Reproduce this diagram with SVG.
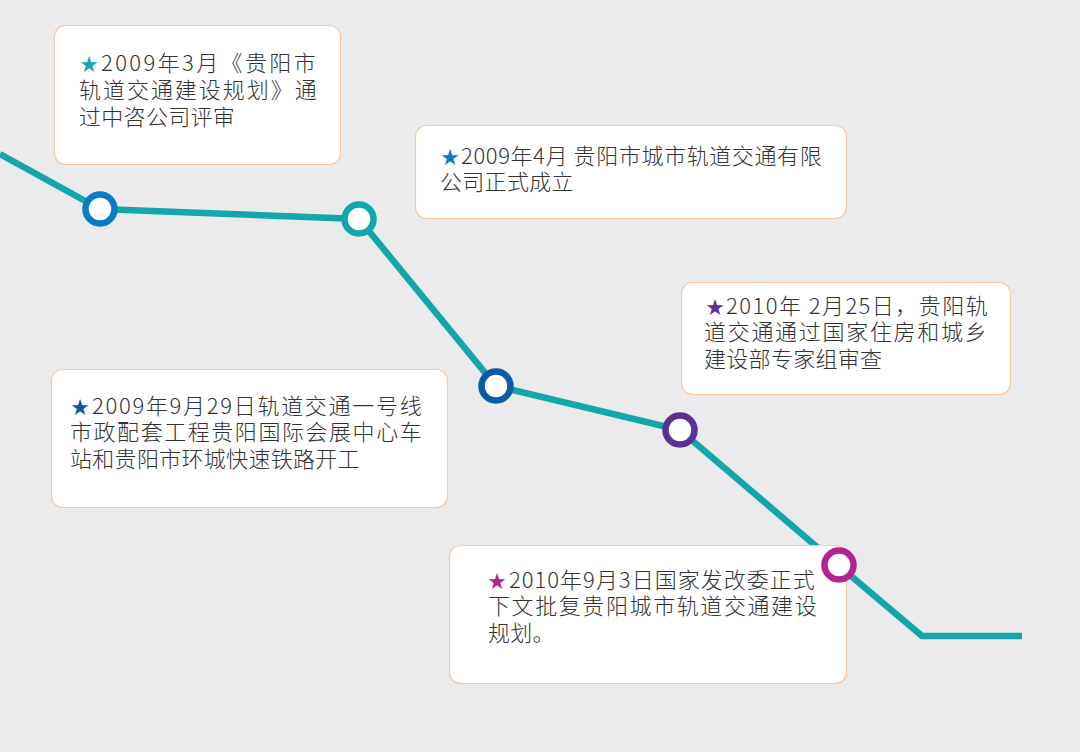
<svg xmlns="http://www.w3.org/2000/svg" width="1080" height="752" viewBox="0 0 1080 752">
<style>
.box{fill:#ffffff;stroke:#f6c9a3;stroke-width:1.2}
.t{font-family:"Noto Sans CJK SC","Noto Sans",sans-serif;font-size:22px;font-weight:300;fill:#333333;letter-spacing:0.3px}
.st{font-family:"Noto Sans CJK SC","Noto Sans",sans-serif;font-size:18px}
.dot{fill:#ffffff;stroke-width:6.5}
</style>
<rect width="1080" height="752" fill="#ebebee"/>
<g id="connectors">
<polyline points="0,154 100,209 359,219 496,386 680,430 838,565 922,636 1022,636" fill="none" stroke="#13a7a9" stroke-width="6.5" stroke-linejoin="miter"/>
</g>
<g id="node1">
<rect class="box" x="54.5" y="25.5" width="286" height="139" rx="11"/>
<text class="st" x="80" y="71" fill="#16a9ab">★</text>
<text class="t"><tspan x="101" y="71" textLength="215" lengthAdjust="spacing">2009年3月《贵阳市</tspan><tspan x="79" y="98" textLength="238" lengthAdjust="spacing">轨道交通建设规划》通</tspan><tspan x="79" y="125">过中咨公司评审</tspan></text>
</g>
<g id="node2">
<rect class="box" x="415.5" y="125.5" width="431" height="93" rx="11"/>
<text class="st" x="441" y="164" fill="#0a7bc4">★</text>
<text class="t"><tspan x="461" y="164" textLength="361" lengthAdjust="spacing">2009年4月 贵阳市城市轨道交通有限</tspan><tspan x="440" y="190">公司正式成立</tspan></text>
</g>
<g id="node3">
<rect class="box" x="681.5" y="282.5" width="329" height="112" rx="11"/>
<text class="st" x="706" y="314" fill="#5c3196">★</text>
<text class="t"><tspan x="726" y="314" textLength="262" lengthAdjust="spacing">2010年 2月25日，贵阳轨</tspan><tspan x="704" y="340" textLength="283" lengthAdjust="spacing">道交通通过国家住房和城乡</tspan><tspan x="704" y="367">建设部专家组审查</tspan></text>
</g>
<g id="node4">
<rect class="box" x="51.5" y="369.5" width="396" height="138" rx="11"/>
<text class="st" x="71" y="414" fill="#0d5aa7">★</text>
<text class="t"><tspan x="92" y="414" textLength="330" lengthAdjust="spacing">2009年9月29日轨道交通一号线</tspan><tspan x="70" y="440" textLength="352" lengthAdjust="spacing">市政配套工程贵阳国际会展中心车</tspan><tspan x="70" y="467">站和贵阳市环城快速铁路开工</tspan></text>
</g>
<g id="node5">
<rect class="box" x="449.5" y="545.5" width="397" height="138" rx="11"/>
<text class="st" x="488" y="588" fill="#b52393">★</text>
<text class="t"><tspan x="509" y="588" textLength="306" lengthAdjust="spacing">2010年9月3日国家发改委正式</tspan><tspan x="488" y="614" textLength="329" lengthAdjust="spacing">下文批复贵阳城市轨道交通建设</tspan><tspan x="488" y="641">规划。</tspan></text>
</g>
<g id="stations">
<circle class="dot" cx="100" cy="209" r="14.5" stroke="#0a7bc4"/>
<circle class="dot" cx="359" cy="219" r="14.5" stroke="#13a7a9"/>
<circle class="dot" cx="496" cy="386" r="14.5" stroke="#0d5aa7"/>
<circle class="dot" cx="680" cy="430" r="14.5" stroke="#5c3196"/>
<circle class="dot" cx="839" cy="565" r="14.5" stroke="#b52393"/>
</g>
</svg>
